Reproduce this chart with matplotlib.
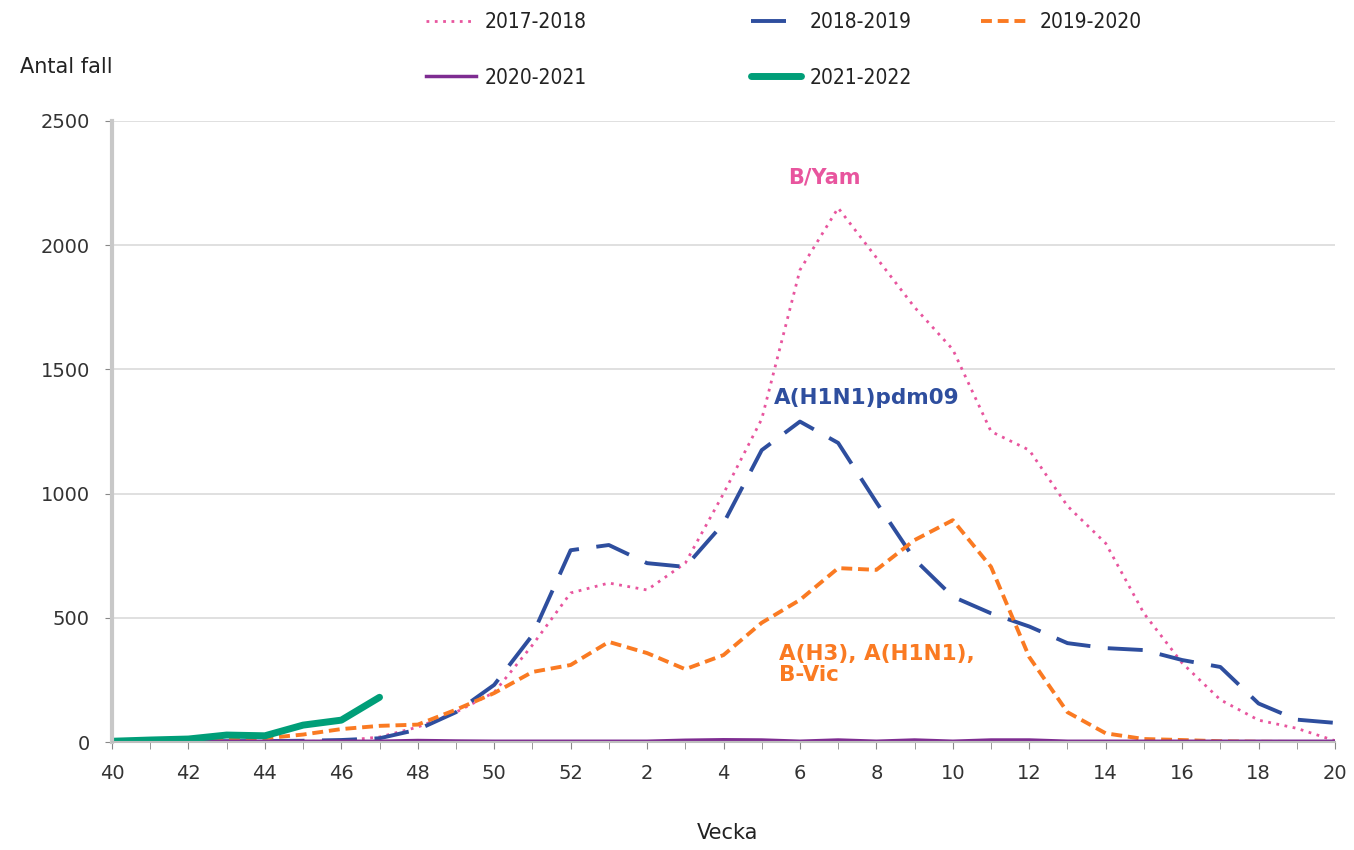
import numpy as np
import matplotlib.pyplot as plt

# Veckor: 40-52, 1-20
weeks = list(range(40, 53)) + list(range(1, 21))

s2017 = [0, 0, 0, 0, 0, 2, 5, 20, 60, 120, 200, 390, 600, 640, 612, 720,
         1000, 1300, 1900, 2150, 1950, 1750, 1580, 1250, 1175, 950, 800,
         518, 318, 170, 88, 55, 5]
s2018 = [2, 2, 3, 3, 4, 5, 8, 15, 50, 120, 230, 430, 772, 793, 720, 705,
         880, 1175, 1290, 1204, 965, 735, 585, 518, 465, 398, 378, 370,
         330, 302, 155, 90, 77]
s2019 = [0, 0, 5, 10, 15, 30, 52, 65, 70, 130, 197, 282, 310, 403, 358, 293,
         350, 480, 572, 700, 693, 813, 893, 705, 342, 120, 35, 12, 8, 3, 1, 0, 0]
s2020 = [3, 3, 3, 3, 3, 3, 3, 3, 6, 4, 3, 3, 3, 3, 3, 7, 9, 8, 3, 8, 3, 8,
         3, 8, 8, 3, 3, 3, 3, 3, 3, 3, 3]
s2021 = [3, 8, 12, 28, 25, 68, 88, 180]

fig = plt.figure(figsize=(13.54, 8.5), dpi=100)
ax = fig.add_axes([112 / 1354, 1 - 742 / 850, (1335 - 112) / 1354, (742 - 121) / 850])

x = np.arange(len(weeks))
l1, = ax.plot(x, s2017, color='#E8559E', lw=2.0, linestyle=(0, (1, 2)), label='2017-2018')
l2, = ax.plot(x, s2018, color='#2E4E9E', lw=2.8, linestyle=(0, (9, 4.5)), label='2018-2019')
l3, = ax.plot(x, s2019, color='#FA7A22', lw=2.8, linestyle=(0, (2.8, 1.5)), label='2019-2020')
l4, = ax.plot(x, s2020, color='#7E2C91', lw=2.5, label='2020-2021')
l5, = ax.plot(np.arange(len(s2021)), s2021, color='#009E78', lw=5.0,
              solid_capstyle='round', label='2021-2022')

ax.set_xlim(0, len(weeks) - 1)
ax.set_ylim(0, 2500)
ax.set_xticks(x[::2])
ax.set_xticklabels([str(w) for w in weeks[::2]])
ax.set_xticks(x, minor=True)
ax.set_yticks(range(0, 2501, 500))
ax.grid(axis='y', color='#DADADA', lw=1.2)
ax.set_axisbelow(True)
for s in ['top', 'right']:
    ax.spines[s].set_visible(False)
ax.spines['left'].set_color('#C8C8C8')
ax.spines['left'].set_linewidth(3)
ax.spines['bottom'].set_color('#BEBEBE')
ax.spines['bottom'].set_linewidth(1.5)
ax.tick_params(axis='both', which='both', color='#888888', labelsize=14,
               labelcolor='#333333', direction='out')
ax.tick_params(axis='x', which='both', length=5, pad=11)
ax.tick_params(axis='y', length=5, pad=11)

fig.text(20 / 1354, 1 - 67 / 850, 'Antal fall', fontsize=15, va='center', color='#222222')
fig.text(728 / 1354, 1 - 833 / 850, 'Vecka', fontsize=15, ha='center', va='center', color='#222222')

ax.text(19 - 0.35, 2250, 'B/Yam', color='#E8559E', fontsize=15, fontweight='bold', ha='center')
ax.text(19.75, 1360, 'A(H1N1)pdm09', color='#2E4E9E', fontsize=15.5, fontweight='bold', ha='center')
ax.text(17.45, 395, 'A(H3), A(H1N1),\nB-Vic', color='#FA7A22', fontsize=15.5,
        fontweight='bold', ha='left', va='top', linespacing=1.05)

# tre legendkolumner med olika avstånd
leg_kw = dict(loc='upper left', frameon=False, prop={'size': 15, 'stretch': 'condensed'},
              handlelength=2.4, handletextpad=0.4, labelspacing=1.7, borderaxespad=0)
for handles, xpos in [([l1, l4], 418), ([l2, l5], 743), ([l3], 973)]:
    leg = fig.legend(handles, [h.get_label() for h in handles],
                     bbox_to_anchor=(xpos / 1354, 1 - 4 / 850), **leg_kw)
    for t in leg.get_texts():
        t.set_color('#222222')

fig.savefig('out.png', dpi=100)
